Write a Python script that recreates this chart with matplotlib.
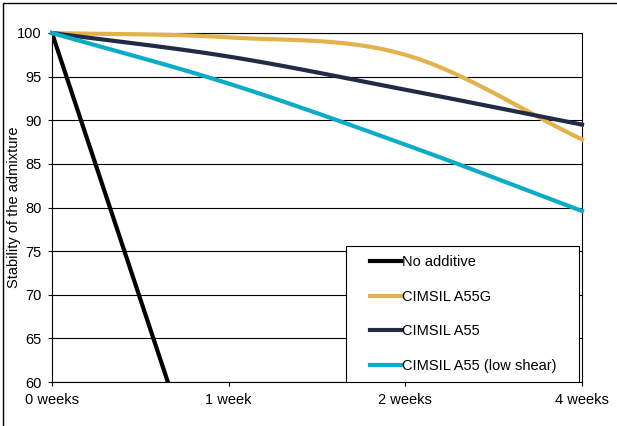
import matplotlib
matplotlib.use('Agg')
import matplotlib.pyplot as plt
import matplotlib.patches as patches
import numpy as np

# data
weeks = ['0 weeks', '1 week', '2 weeks', '4 weeks']
no_additive = [100, 39]            # leaves the chart before 1 week
cimsil_a55g = [100, 99.5, 97.5, 87.8]
cimsil_a55 = [100, 97.3, 93.5, 89.5]
cimsil_a55_low = [100, 94.2, 87.2, 79.6]

plt.rcParams['font.family'] = ['Liberation Sans', 'DejaVu Sans']
plt.rcParams['font.size'] = 10.5


def smooth(y, n=40):
	#excel style smoothed line (catmull-rom), ends extrapolated so they stay straight
	y = np.asarray(y, dtype=float)
	p = np.concatenate([[2 * y[0] - y[1]], y, [2 * y[-1] - y[-2]]])
	xs, ys = [], []
	for i in range(len(y) - 1):
		p0, p1, p2, p3 = p[i], p[i + 1], p[i + 2], p[i + 3]
		m1 = (p2 - p0) / 2
		m2 = (p3 - p1) / 2
		t = np.linspace(0, 1, n)
		h00 = 2 * t**3 - 3 * t**2 + 1
		h10 = t**3 - 2 * t**2 + t
		h01 = -2 * t**3 + 3 * t**2
		h11 = t**3 - t**2
		xs.append(i + t)
		ys.append(h00 * p1 + h10 * m1 + h01 * p2 + h11 * m2)
	return np.concatenate(xs), np.concatenate(ys)


fig = plt.figure(figsize=(6.17, 4.26), dpi=100)
ax = fig.add_axes([52 / 617, 1 - 382 / 426, 530 / 617, 349 / 426])

ax.plot(range(len(no_additive)), no_additive, color='black', lw=3, label='No additive', zorder=3)
x, y = smooth(cimsil_a55g)
ax.plot(x, y, color='#E3B24C', lw=3, label='CIMSIL A55G', clip_on=False, zorder=3)
x, y = smooth(cimsil_a55)
ax.plot(x, y, color='#222B45', lw=3, label='CIMSIL A55', clip_on=False, zorder=3)
x, y = smooth(cimsil_a55_low)
ax.plot(x, y, color='#0BACC7', lw=3, label='CIMSIL A55 (low shear)', clip_on=False, zorder=3)

ax.set_xlim(0, len(weeks) - 1)
ax.set_ylim(60, 100)
ax.set_xticks(range(len(weeks)))
ax.set_xticklabels(weeks)
ax.set_yticks(np.arange(60, 101, 5))
ax.yaxis.grid(True, color='black', lw=0.8, zorder=0)
ax.set_axisbelow(True)
ax.tick_params(axis='y', direction='out', length=3, width=0.8, pad=4.5)
ax.tick_params(axis='x', direction='out', length=3, width=0.8, pad=5)
for s in ax.spines.values():
	s.set_linewidth(0.8)
ax.set_ylabel('Stability of the admixture')
ax.yaxis.set_label_coords(-31 / 530, 0.5)

#legend box drawn separately so the padding matches
box = patches.Rectangle((294 / 530, 0), 233 / 530, 136 / 349, transform=ax.transAxes,
	facecolor='white', edgecolor='black', lw=0.8, zorder=4)
ax.add_patch(box)
leg = ax.legend(loc='center left', bbox_to_anchor=(311 / 530, 68 / 349), frameon=False,
	handlelength=2.1, handletextpad=0.05, labelspacing=1.41, borderpad=0)
leg.set_zorder(5)

#outer border of the picture
fig.add_artist(patches.Rectangle((2.5 / 617, -0.1), 1.2, 1.1 - 2.5 / 426, transform=fig.transFigure,
	facecolor='none', edgecolor='black', lw=1))

fig.savefig('out.png', dpi=100)
